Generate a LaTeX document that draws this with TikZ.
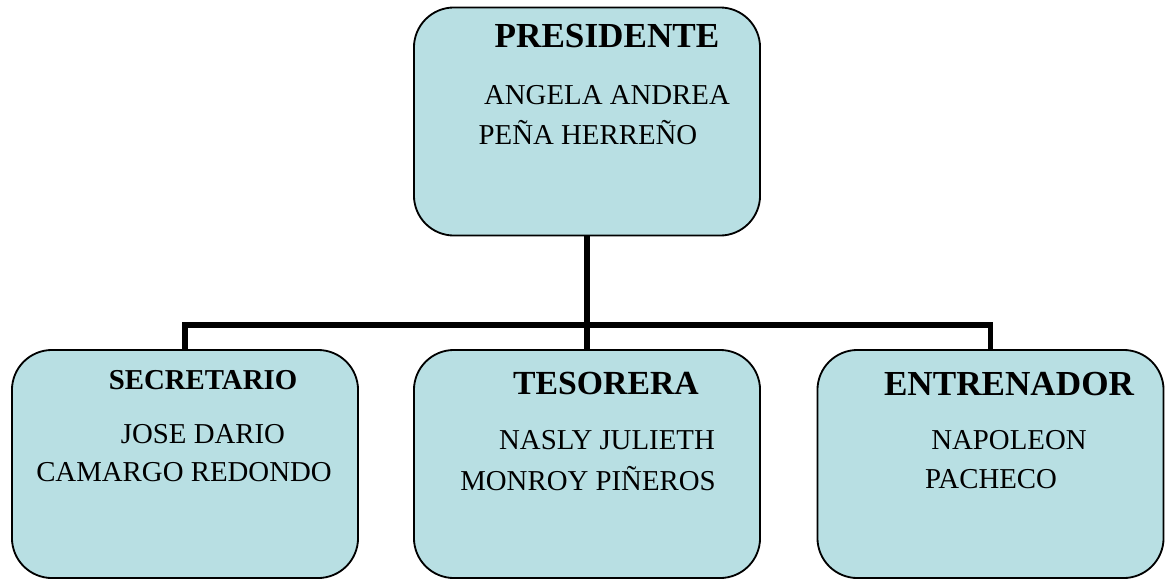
\documentclass[tikz,border=0pt]{standalone}
\usepackage{fontspec}
\setmainfont{Liberation Serif}
\usepackage{xcolor}
\usepackage{tikz}
\usetikzlibrary{positioning,calc}

\definecolor{cajaazul}{RGB}{184,223,227}

\begin{document}
\begin{tikzpicture}[
    x=0.025cm, y=0.025cm,
    cargo/.style={rectangle, rounded corners=1cm, draw, line width=1.3pt, fill=cajaazul, minimum width=8.65cm, minimum height=5.7cm, inner sep=0pt},
    titulo/.style={font=\fontsize{25}{28}\selectfont\bfseries},
    nombre/.style={font=\fontsize{20.5}{24}\selectfont},
    linea/.style={line width=4.2pt, line join=miter}
]
    \useasboundingbox (0,0) rectangle (1170,-580);

    \node[cargo] (pres) at (587,-121.5) {};
    \node[cargo] (sec) at (185,-464) {};
    \node[cargo] (tes) at (587,-464) {};
    \node[cargo] (ent) at (990.5,-464) {};

    \node[titulo] (presT) at (607,-36) {PRESIDENTE};
    \node[nombre] (presN1) at (607,-95) {ANGELA ANDREA};
    \node[nombre] (presN2) at (588,-133) {PEÑA HERREÑO};

    \node[titulo, font=\fontsize{20.5}{24}\selectfont\bfseries] (secT) at (203,-380) {SECRETARIO};
    \node[nombre] (secN1) at (203,-434) {JOSE DARIO};
    \node[nombre] (secN2) at (184,-472) {CAMARGO REDONDO};

    \node[titulo, font=\fontsize{24}{28}\selectfont\bfseries] (tesT) at (606,-383) {TESORERA};
    \node[nombre] (tesN1) at (607,-440) {NASLY JULIETH};
    \node[nombre] (tesN2) at (588,-479) {MONROY PIÑEROS};

    \node[titulo] (entT) at (1009,-384) {ENTRENADOR};
    \node[nombre] (entN1) at (1009,-440) {NAPOLEON};
    \node[nombre] (entN2) at (991,-479) {PACHECO};

    \coordinate (bus) at (587,-325);
    \draw[linea] (pres.south) -- (bus);
    \draw[linea] (sec.north) |- (bus) -| (ent.north);
    \draw[linea] (bus) -- (tes.north);
\end{tikzpicture}
\end{document}
